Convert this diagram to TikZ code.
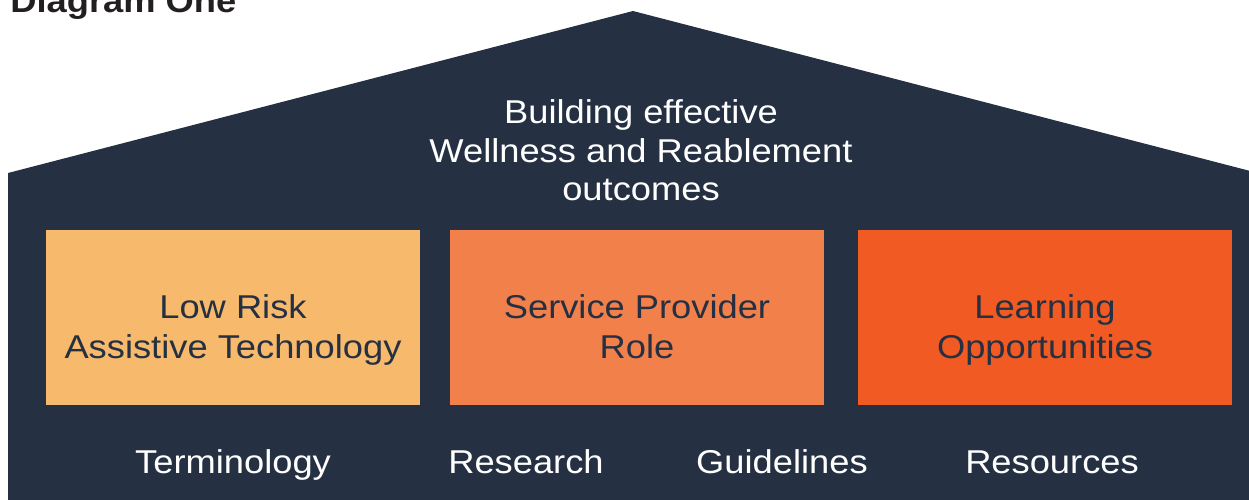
\documentclass[tikz,border=0pt]{standalone}
\usepackage{fontspec}
\setmainfont{Liberation Sans}[FakeStretch=1.1]
\usetikzlibrary{positioning}
\definecolor{navy}{HTML}{253142}
\definecolor{riskfill}{HTML}{F7B96B}
\definecolor{rolefill}{HTML}{F2804B}
\definecolor{learnfill}{HTML}{F15A22}
\definecolor{titleink}{HTML}{231F20}
\tikzstyle{house} = [fill=navy, draw=none]
\tikzstyle{pillar} = [draw=none, rectangle, minimum width=187pt, minimum height=87.5pt, inner sep=0pt]
\tikzstyle{pillartext} = [text=navy, align=center, inner sep=0pt, text height=12pt, text depth=0pt, font=\fontsize{16.5pt}{20pt}\selectfont]
\tikzstyle{rooftext} = [text=white, align=center, inner sep=0pt, text height=12pt, text depth=0pt, font=\fontsize{16.5pt}{19.25pt}\selectfont]
\tikzstyle{footlabel} = [text=white, inner sep=0pt, text height=12pt, text depth=3.5pt, font=\fontsize{16.5pt}{19pt}\selectfont]
\tikzstyle{heading} = [text=titleink, inner sep=0pt, font=\fontsize{16.5pt}{19pt}\selectfont\bfseries]

\begin{document}
\begin{tikzpicture}[x=0.5pt, y=-0.5pt]
    \useasboundingbox (0,0) rectangle (1249,499);
    % house outline
    \fill [house] (8,510) -- (8,173) -- (633,11) -- (1258,173) -- (1258,510) -- cycle;
    \node [heading, anchor=base west] (title) at (10,12) {Diagram One};
    \node [rooftext] (goal) at (641,188.5) {Building effective\\Wellness and Reablement\\outcomes};
    % pillars
    \node [pillar, fill=riskfill] (risk) at (233,317.5) {};
    \node [pillar, fill=rolefill, right of=risk, node distance=202pt] (role) {};
    \node [pillar, fill=learnfill, right of=role, node distance=204pt] (learn) {};
    \node [pillartext] (risktext) at ([yshift=-14.5pt]risk.center) {Low Risk\\Assistive Technology};
    \node [pillartext] (roletext) at ([yshift=-14.5pt]role.center) {Service Provider\\Role};
    \node [pillartext] (learntext) at ([yshift=-14.5pt]learn.center) {Learning\\Opportunities};
    % foundations
    \node [footlabel] (terms) at (233,464.5) {Terminology};
    \node [footlabel, right of=terms, node distance=146.5pt] (research) {Research};
    \node [footlabel, right of=research, node distance=128pt] (guides) {Guidelines};
    \node [footlabel, right of=guides, node distance=135pt] (resources) {Resources};
\end{tikzpicture}
\end{document}
